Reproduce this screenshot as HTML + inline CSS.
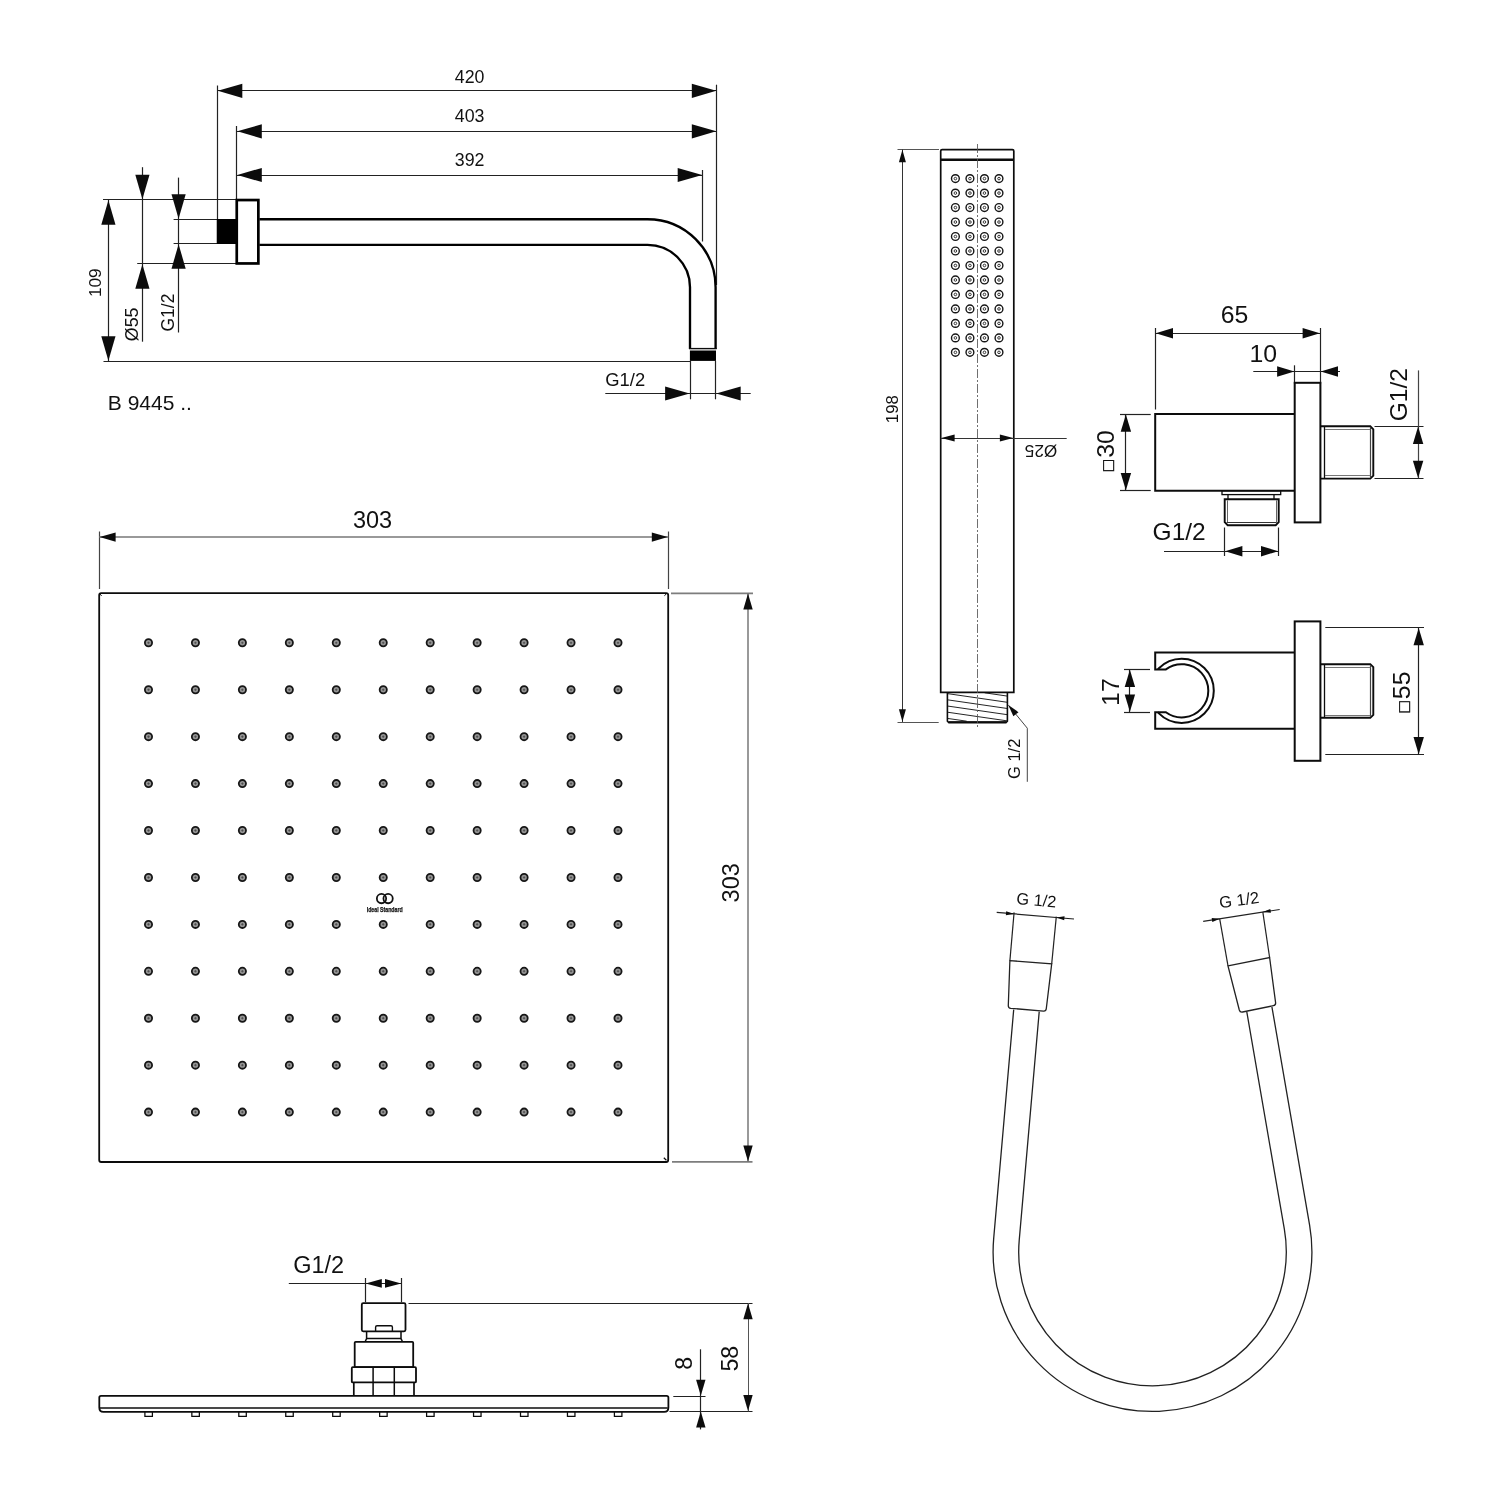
<!DOCTYPE html>
<html lang="en">
<head>
<meta charset="utf-8">
<title>B 9445 technical drawing</title>
<style>
html,body{margin:0;padding:0;background:#fff;}
body{width:1500px;height:1500px;overflow:hidden;}
svg{display:block;filter:grayscale(1);}
svg text{font-family:"Liberation Sans","DejaVu Sans",sans-serif;}
</style>
</head>
<body>
<svg width="1500" height="1500" viewBox="0 0 1500 1500">
<rect x="0" y="0" width="1500" height="1500" fill="#ffffff"/>
<g id="arm">
<line x1="217.3" y1="90.5" x2="716.8" y2="90.5" stroke="#222" stroke-width="1.2" />
<polygon points="217.8,90.8 242.3,83.7 242.3,97.9" fill="#0c0c0c"/>
<polygon points="716.3,90.8 691.8,97.9 691.8,83.7" fill="#0c0c0c"/>
<line x1="217.5" y1="85.5" x2="217.5" y2="243.8" stroke="#222" stroke-width="1.2" />
<line x1="716.5" y1="84.7" x2="716.5" y2="285" stroke="#222" stroke-width="1.2" />
<line x1="236.8" y1="131.5" x2="716.8" y2="131.5" stroke="#222" stroke-width="1.2" />
<polygon points="237.3,131.3 261.8,124.2 261.8,138.4" fill="#0c0c0c"/>
<polygon points="716.3,131.3 691.8,138.4 691.8,124.2" fill="#0c0c0c"/>
<line x1="236.5" y1="126" x2="236.5" y2="200" stroke="#222" stroke-width="1.2" />
<line x1="236.8" y1="175.5" x2="702.7" y2="175.5" stroke="#222" stroke-width="1.2" />
<polygon points="237.3,175 261.8,167.9 261.8,182.1" fill="#0c0c0c"/>
<polygon points="702.2,175 677.7,182.1 677.7,167.9" fill="#0c0c0c"/>
<line x1="702.5" y1="170" x2="702.5" y2="241.5" stroke="#222" stroke-width="1.2" />
<text x="469.6" y="83.3" font-size="17.8" text-anchor="middle" fill="#111" >420</text>
<text x="469.6" y="122" font-size="17.8" text-anchor="middle" fill="#111" >403</text>
<text x="469.6" y="166" font-size="17.8" text-anchor="middle" fill="#111" >392</text>
<line x1="103" y1="199.5" x2="236" y2="199.5" stroke="#222" stroke-width="1.2" />
<line x1="103.5" y1="361.5" x2="690" y2="361.5" stroke="#222" stroke-width="1.2" />
<line x1="108.5" y1="199.8" x2="108.5" y2="361.3" stroke="#222" stroke-width="1.2" />
<polygon points="108.4,200.3 115.5,224.8 101.3,224.8" fill="#0c0c0c"/>
<polygon points="108.4,360.8 101.3,336.3 115.5,336.3" fill="#0c0c0c"/>
<text x="0" y="0" transform="translate(101.2 282.7) rotate(-90)" font-size="17.3" text-anchor="middle" fill="#111" >109</text>
<line x1="142.5" y1="167.2" x2="142.5" y2="341.7" stroke="#222" stroke-width="1.2" />
<polygon points="142.4,199.3 135.3,174.8 149.5,174.8" fill="#0c0c0c"/>
<polygon points="142.4,264.3 149.5,288.8 135.3,288.8" fill="#0c0c0c"/>
<line x1="137.2" y1="263.5" x2="236" y2="263.5" stroke="#222" stroke-width="1.2" />
<text x="0" y="0" transform="translate(137.9 341.2) rotate(-90)" font-size="17.8" text-anchor="start" fill="#111" >Ø55</text>
<line x1="178.5" y1="177.6" x2="178.5" y2="332.5" stroke="#222" stroke-width="1.2" />
<polygon points="178.6,218.8 171.5,194.3 185.7,194.3" fill="#0c0c0c"/>
<polygon points="178.6,244.2 185.7,268.7 171.5,268.7" fill="#0c0c0c"/>
<line x1="173.6" y1="219.5" x2="217.3" y2="219.5" stroke="#222" stroke-width="1.2" />
<line x1="173.6" y1="243.5" x2="217.3" y2="243.5" stroke="#222" stroke-width="1.2" />
<text x="0" y="0" transform="translate(173.7 331.5) rotate(-90)" font-size="17.5" text-anchor="start" fill="#111" >G1/2</text>
<rect x="216.8" y="219" width="20" height="25" fill="#000"/>
<rect x="236.75" y="200.05" width="21.6" height="63.4" rx="0" stroke="#000" stroke-width="2.7" fill="none"/>
<path d="M259.4,219.2 H647.5 A68.1,68.1 0 0 1 715.6,287.3 V349" stroke="#000" stroke-width="2.35" fill="none" />
<path d="M259.4,244.8 H647.5 A42.5,42.5 0 0 1 690,287.3 V349" stroke="#000" stroke-width="2.35" fill="none" />
<line x1="689" y1="348.6" x2="716.6" y2="348.6" stroke="#0c0c0c" stroke-width="1.4" />
<rect x="689.9" y="350.5" width="26.1" height="10.4" fill="#000"/>
<line x1="690.5" y1="361" x2="690.5" y2="399.3" stroke="#222" stroke-width="1.2" />
<line x1="715.5" y1="361" x2="715.5" y2="399.3" stroke="#222" stroke-width="1.2" />
<line x1="605.3" y1="393.5" x2="750.7" y2="393.5" stroke="#222" stroke-width="1.2" />
<polygon points="689.6,393.5 665.1,400.6 665.1,386.4" fill="#0c0c0c"/>
<polygon points="716.2,393.5 740.7,386.4 740.7,400.6" fill="#0c0c0c"/>
<text x="605.3" y="385.9" font-size="18.4" text-anchor="start" fill="#111" >G1/2</text>
<text x="107.8" y="410" font-size="21" text-anchor="start" fill="#111" >B 9445 ..</text>
</g>
<g id="hand">
<path d="M940.7,692.4 V151 Q940.7,149.6 942.1,149.6 H1012.4 Q1013.8,149.6 1013.8,151 V692.4 Z" stroke="#0c0c0c" stroke-width="1.7" fill="none" />
<line x1="940.7" y1="159.8" x2="1013.8" y2="159.8" stroke="#0c0c0c" stroke-width="2.4" />
<path d="M947.4,692.4 V721.2 L948.9,722.7 H1005.9 L1007.4,721.2 V692.4" stroke="#0c0c0c" stroke-width="1.6" fill="none" />
<line x1="948.4" y1="721.5" x2="1006.4" y2="721.5" stroke="#0c0c0c" stroke-width="0.9" />
<line x1="984.64" y1="692.8" x2="1007.4" y2="696.1" stroke="#0c0c0c" stroke-width="0.9" />
<line x1="947.4" y1="693.6" x2="1007.4" y2="702.3" stroke="#0c0c0c" stroke-width="0.9" />
<line x1="947.4" y1="699.8" x2="1007.4" y2="708.5" stroke="#0c0c0c" stroke-width="0.9" />
<line x1="947.4" y1="706" x2="1007.4" y2="714.7" stroke="#0c0c0c" stroke-width="0.9" />
<line x1="947.4" y1="712.2" x2="1007.4" y2="720.9" stroke="#0c0c0c" stroke-width="0.9" />
<line x1="947.4" y1="718.4" x2="966.71" y2="721.2" stroke="#0c0c0c" stroke-width="0.9" />
<line x1="977.5" y1="144" x2="977.5" y2="727.6" stroke="#555" stroke-width="0.85" stroke-dasharray="9 2 2 2"/>
<circle cx="955.4" cy="178.6" r="3.9" stroke="#151515" stroke-width="1.4" fill="none"/>
<circle cx="955.4" cy="178.6" r="1.3" stroke="#222" stroke-width="0.9" fill="none"/>
<circle cx="955.4" cy="193.08" r="3.9" stroke="#151515" stroke-width="1.4" fill="none"/>
<circle cx="955.4" cy="193.08" r="1.3" stroke="#222" stroke-width="0.9" fill="none"/>
<circle cx="955.4" cy="207.56" r="3.9" stroke="#151515" stroke-width="1.4" fill="none"/>
<circle cx="955.4" cy="207.56" r="1.3" stroke="#222" stroke-width="0.9" fill="none"/>
<circle cx="955.4" cy="222.04" r="3.9" stroke="#151515" stroke-width="1.4" fill="none"/>
<circle cx="955.4" cy="222.04" r="1.3" stroke="#222" stroke-width="0.9" fill="none"/>
<circle cx="955.4" cy="236.52" r="3.9" stroke="#151515" stroke-width="1.4" fill="none"/>
<circle cx="955.4" cy="236.52" r="1.3" stroke="#222" stroke-width="0.9" fill="none"/>
<circle cx="955.4" cy="251" r="3.9" stroke="#151515" stroke-width="1.4" fill="none"/>
<circle cx="955.4" cy="251" r="1.3" stroke="#222" stroke-width="0.9" fill="none"/>
<circle cx="955.4" cy="265.48" r="3.9" stroke="#151515" stroke-width="1.4" fill="none"/>
<circle cx="955.4" cy="265.48" r="1.3" stroke="#222" stroke-width="0.9" fill="none"/>
<circle cx="955.4" cy="279.96" r="3.9" stroke="#151515" stroke-width="1.4" fill="none"/>
<circle cx="955.4" cy="279.96" r="1.3" stroke="#222" stroke-width="0.9" fill="none"/>
<circle cx="955.4" cy="294.44" r="3.9" stroke="#151515" stroke-width="1.4" fill="none"/>
<circle cx="955.4" cy="294.44" r="1.3" stroke="#222" stroke-width="0.9" fill="none"/>
<circle cx="955.4" cy="308.92" r="3.9" stroke="#151515" stroke-width="1.4" fill="none"/>
<circle cx="955.4" cy="308.92" r="1.3" stroke="#222" stroke-width="0.9" fill="none"/>
<circle cx="955.4" cy="323.4" r="3.9" stroke="#151515" stroke-width="1.4" fill="none"/>
<circle cx="955.4" cy="323.4" r="1.3" stroke="#222" stroke-width="0.9" fill="none"/>
<circle cx="955.4" cy="337.88" r="3.9" stroke="#151515" stroke-width="1.4" fill="none"/>
<circle cx="955.4" cy="337.88" r="1.3" stroke="#222" stroke-width="0.9" fill="none"/>
<circle cx="955.4" cy="352.36" r="3.9" stroke="#151515" stroke-width="1.4" fill="none"/>
<circle cx="955.4" cy="352.36" r="1.3" stroke="#222" stroke-width="0.9" fill="none"/>
<circle cx="969.93" cy="178.6" r="3.9" stroke="#151515" stroke-width="1.4" fill="none"/>
<circle cx="969.93" cy="178.6" r="1.3" stroke="#222" stroke-width="0.9" fill="none"/>
<circle cx="969.93" cy="193.08" r="3.9" stroke="#151515" stroke-width="1.4" fill="none"/>
<circle cx="969.93" cy="193.08" r="1.3" stroke="#222" stroke-width="0.9" fill="none"/>
<circle cx="969.93" cy="207.56" r="3.9" stroke="#151515" stroke-width="1.4" fill="none"/>
<circle cx="969.93" cy="207.56" r="1.3" stroke="#222" stroke-width="0.9" fill="none"/>
<circle cx="969.93" cy="222.04" r="3.9" stroke="#151515" stroke-width="1.4" fill="none"/>
<circle cx="969.93" cy="222.04" r="1.3" stroke="#222" stroke-width="0.9" fill="none"/>
<circle cx="969.93" cy="236.52" r="3.9" stroke="#151515" stroke-width="1.4" fill="none"/>
<circle cx="969.93" cy="236.52" r="1.3" stroke="#222" stroke-width="0.9" fill="none"/>
<circle cx="969.93" cy="251" r="3.9" stroke="#151515" stroke-width="1.4" fill="none"/>
<circle cx="969.93" cy="251" r="1.3" stroke="#222" stroke-width="0.9" fill="none"/>
<circle cx="969.93" cy="265.48" r="3.9" stroke="#151515" stroke-width="1.4" fill="none"/>
<circle cx="969.93" cy="265.48" r="1.3" stroke="#222" stroke-width="0.9" fill="none"/>
<circle cx="969.93" cy="279.96" r="3.9" stroke="#151515" stroke-width="1.4" fill="none"/>
<circle cx="969.93" cy="279.96" r="1.3" stroke="#222" stroke-width="0.9" fill="none"/>
<circle cx="969.93" cy="294.44" r="3.9" stroke="#151515" stroke-width="1.4" fill="none"/>
<circle cx="969.93" cy="294.44" r="1.3" stroke="#222" stroke-width="0.9" fill="none"/>
<circle cx="969.93" cy="308.92" r="3.9" stroke="#151515" stroke-width="1.4" fill="none"/>
<circle cx="969.93" cy="308.92" r="1.3" stroke="#222" stroke-width="0.9" fill="none"/>
<circle cx="969.93" cy="323.4" r="3.9" stroke="#151515" stroke-width="1.4" fill="none"/>
<circle cx="969.93" cy="323.4" r="1.3" stroke="#222" stroke-width="0.9" fill="none"/>
<circle cx="969.93" cy="337.88" r="3.9" stroke="#151515" stroke-width="1.4" fill="none"/>
<circle cx="969.93" cy="337.88" r="1.3" stroke="#222" stroke-width="0.9" fill="none"/>
<circle cx="969.93" cy="352.36" r="3.9" stroke="#151515" stroke-width="1.4" fill="none"/>
<circle cx="969.93" cy="352.36" r="1.3" stroke="#222" stroke-width="0.9" fill="none"/>
<circle cx="984.46" cy="178.6" r="3.9" stroke="#151515" stroke-width="1.4" fill="none"/>
<circle cx="984.46" cy="178.6" r="1.3" stroke="#222" stroke-width="0.9" fill="none"/>
<circle cx="984.46" cy="193.08" r="3.9" stroke="#151515" stroke-width="1.4" fill="none"/>
<circle cx="984.46" cy="193.08" r="1.3" stroke="#222" stroke-width="0.9" fill="none"/>
<circle cx="984.46" cy="207.56" r="3.9" stroke="#151515" stroke-width="1.4" fill="none"/>
<circle cx="984.46" cy="207.56" r="1.3" stroke="#222" stroke-width="0.9" fill="none"/>
<circle cx="984.46" cy="222.04" r="3.9" stroke="#151515" stroke-width="1.4" fill="none"/>
<circle cx="984.46" cy="222.04" r="1.3" stroke="#222" stroke-width="0.9" fill="none"/>
<circle cx="984.46" cy="236.52" r="3.9" stroke="#151515" stroke-width="1.4" fill="none"/>
<circle cx="984.46" cy="236.52" r="1.3" stroke="#222" stroke-width="0.9" fill="none"/>
<circle cx="984.46" cy="251" r="3.9" stroke="#151515" stroke-width="1.4" fill="none"/>
<circle cx="984.46" cy="251" r="1.3" stroke="#222" stroke-width="0.9" fill="none"/>
<circle cx="984.46" cy="265.48" r="3.9" stroke="#151515" stroke-width="1.4" fill="none"/>
<circle cx="984.46" cy="265.48" r="1.3" stroke="#222" stroke-width="0.9" fill="none"/>
<circle cx="984.46" cy="279.96" r="3.9" stroke="#151515" stroke-width="1.4" fill="none"/>
<circle cx="984.46" cy="279.96" r="1.3" stroke="#222" stroke-width="0.9" fill="none"/>
<circle cx="984.46" cy="294.44" r="3.9" stroke="#151515" stroke-width="1.4" fill="none"/>
<circle cx="984.46" cy="294.44" r="1.3" stroke="#222" stroke-width="0.9" fill="none"/>
<circle cx="984.46" cy="308.92" r="3.9" stroke="#151515" stroke-width="1.4" fill="none"/>
<circle cx="984.46" cy="308.92" r="1.3" stroke="#222" stroke-width="0.9" fill="none"/>
<circle cx="984.46" cy="323.4" r="3.9" stroke="#151515" stroke-width="1.4" fill="none"/>
<circle cx="984.46" cy="323.4" r="1.3" stroke="#222" stroke-width="0.9" fill="none"/>
<circle cx="984.46" cy="337.88" r="3.9" stroke="#151515" stroke-width="1.4" fill="none"/>
<circle cx="984.46" cy="337.88" r="1.3" stroke="#222" stroke-width="0.9" fill="none"/>
<circle cx="984.46" cy="352.36" r="3.9" stroke="#151515" stroke-width="1.4" fill="none"/>
<circle cx="984.46" cy="352.36" r="1.3" stroke="#222" stroke-width="0.9" fill="none"/>
<circle cx="998.99" cy="178.6" r="3.9" stroke="#151515" stroke-width="1.4" fill="none"/>
<circle cx="998.99" cy="178.6" r="1.3" stroke="#222" stroke-width="0.9" fill="none"/>
<circle cx="998.99" cy="193.08" r="3.9" stroke="#151515" stroke-width="1.4" fill="none"/>
<circle cx="998.99" cy="193.08" r="1.3" stroke="#222" stroke-width="0.9" fill="none"/>
<circle cx="998.99" cy="207.56" r="3.9" stroke="#151515" stroke-width="1.4" fill="none"/>
<circle cx="998.99" cy="207.56" r="1.3" stroke="#222" stroke-width="0.9" fill="none"/>
<circle cx="998.99" cy="222.04" r="3.9" stroke="#151515" stroke-width="1.4" fill="none"/>
<circle cx="998.99" cy="222.04" r="1.3" stroke="#222" stroke-width="0.9" fill="none"/>
<circle cx="998.99" cy="236.52" r="3.9" stroke="#151515" stroke-width="1.4" fill="none"/>
<circle cx="998.99" cy="236.52" r="1.3" stroke="#222" stroke-width="0.9" fill="none"/>
<circle cx="998.99" cy="251" r="3.9" stroke="#151515" stroke-width="1.4" fill="none"/>
<circle cx="998.99" cy="251" r="1.3" stroke="#222" stroke-width="0.9" fill="none"/>
<circle cx="998.99" cy="265.48" r="3.9" stroke="#151515" stroke-width="1.4" fill="none"/>
<circle cx="998.99" cy="265.48" r="1.3" stroke="#222" stroke-width="0.9" fill="none"/>
<circle cx="998.99" cy="279.96" r="3.9" stroke="#151515" stroke-width="1.4" fill="none"/>
<circle cx="998.99" cy="279.96" r="1.3" stroke="#222" stroke-width="0.9" fill="none"/>
<circle cx="998.99" cy="294.44" r="3.9" stroke="#151515" stroke-width="1.4" fill="none"/>
<circle cx="998.99" cy="294.44" r="1.3" stroke="#222" stroke-width="0.9" fill="none"/>
<circle cx="998.99" cy="308.92" r="3.9" stroke="#151515" stroke-width="1.4" fill="none"/>
<circle cx="998.99" cy="308.92" r="1.3" stroke="#222" stroke-width="0.9" fill="none"/>
<circle cx="998.99" cy="323.4" r="3.9" stroke="#151515" stroke-width="1.4" fill="none"/>
<circle cx="998.99" cy="323.4" r="1.3" stroke="#222" stroke-width="0.9" fill="none"/>
<circle cx="998.99" cy="337.88" r="3.9" stroke="#151515" stroke-width="1.4" fill="none"/>
<circle cx="998.99" cy="337.88" r="1.3" stroke="#222" stroke-width="0.9" fill="none"/>
<circle cx="998.99" cy="352.36" r="3.9" stroke="#151515" stroke-width="1.4" fill="none"/>
<circle cx="998.99" cy="352.36" r="1.3" stroke="#222" stroke-width="0.9" fill="none"/>
<line x1="897.5" y1="149.5" x2="939" y2="149.5" stroke="#555" stroke-width="1" />
<line x1="897.5" y1="722.5" x2="938.7" y2="722.5" stroke="#555" stroke-width="1" />
<line x1="902.5" y1="149.5" x2="902.5" y2="722" stroke="#333" stroke-width="1" />
<polygon points="902.4,149.8 905.9,162.3 898.9,162.3" fill="#0c0c0c"/>
<polygon points="902.4,721.7 898.9,709.2 905.9,709.2" fill="#0c0c0c"/>
<text x="0" y="0" transform="translate(898 409.2) rotate(-90)" font-size="16.8" text-anchor="middle" fill="#111" >198</text>
<line x1="940.7" y1="438.5" x2="1066.7" y2="438.5" stroke="#333" stroke-width="1" />
<polygon points="941.3,438.1 954.6,434.6 954.6,441.6" fill="#0c0c0c"/>
<polygon points="1013.2,438.1 999.9,441.6 999.9,434.6" fill="#0c0c0c"/>
<text x="0" y="0" transform="translate(1057.3 444.9) rotate(180)" font-size="17.2" text-anchor="start" fill="#111" >Ø25</text>
<path d="M1008.5,705.3 L1027.3,728.2 V781.8" stroke="#444" stroke-width="1" fill="none" />
<polygon points="1008.3,705 1018.48,712.16 1013.39,716.36" fill="#0c0c0c"/>
<text x="0" y="0" transform="translate(1020.4 779) rotate(-90)" font-size="16.5" text-anchor="start" fill="#111" >G 1/2</text>
</g>
<g id="elbow">
<line x1="1155.5" y1="328" x2="1155.5" y2="409.5" stroke="#222" stroke-width="1.2" />
<line x1="1320.5" y1="328" x2="1320.5" y2="384" stroke="#222" stroke-width="1.2" />
<line x1="1155.2" y1="333.5" x2="1320.4" y2="333.5" stroke="#222" stroke-width="1.2" />
<polygon points="1155.7,333.3 1173,328.1 1173,338.5" fill="#0c0c0c"/>
<polygon points="1319.9,333.3 1302.6,338.5 1302.6,328.1" fill="#0c0c0c"/>
<text x="1234.5" y="323" font-size="24.8" text-anchor="middle" fill="#111" >65</text>
<line x1="1253.3" y1="371.5" x2="1340" y2="371.5" stroke="#222" stroke-width="1.2" />
<line x1="1294.5" y1="365.3" x2="1294.5" y2="384" stroke="#222" stroke-width="1.2" />
<polygon points="1294.4,371.5 1277.1,376.7 1277.1,366.3" fill="#0c0c0c"/>
<polygon points="1320.7,371.5 1338,366.3 1338,376.7" fill="#0c0c0c"/>
<text x="1263.2" y="362" font-size="24.8" text-anchor="middle" fill="#111" >10</text>
<rect x="1294.7" y="382.8" width="25.7" height="139.6" rx="0" stroke="#0c0c0c" stroke-width="2" fill="none"/>
<path d="M1294.7,414.1 H1155.2 V490.7 H1294.7" stroke="#0c0c0c" stroke-width="2" fill="none" />
<line x1="1120" y1="414.5" x2="1150.7" y2="414.5" stroke="#222" stroke-width="1.2" />
<line x1="1120" y1="490.5" x2="1150.7" y2="490.5" stroke="#222" stroke-width="1.2" />
<line x1="1125.5" y1="414.1" x2="1125.5" y2="490.7" stroke="#222" stroke-width="1.2" />
<polygon points="1125.9,414.5 1131.1,431.8 1120.7,431.8" fill="#0c0c0c"/>
<polygon points="1125.9,490.3 1120.7,473 1131.1,473" fill="#0c0c0c"/>
<text x="0" y="0" transform="translate(1114.2 470.9) rotate(-90)" font-size="24.8" text-anchor="start" fill="#111" id="sq30"><tspan font-size="18" dy="-0.3" stroke="#111" stroke-width="0.45">□</tspan><tspan dy="0.3" dx="2.3">30</tspan></text>
<path d="M1320.4,426.3 H1370.3 L1373.3,429.3 V475.6 L1370.3,478.6 H1320.4" stroke="#0c0c0c" stroke-width="1.9" fill="none" />
<line x1="1324.5" y1="426.3" x2="1324.5" y2="478.6" stroke="#0c0c0c" stroke-width="1.3" />
<line x1="1370.5" y1="427.3" x2="1370.5" y2="477.6" stroke="#444" stroke-width="1.2" />
<line x1="1325" y1="429.5" x2="1370.3" y2="429.5" stroke="#777" stroke-width="1" />
<line x1="1325" y1="475.5" x2="1370.3" y2="475.5" stroke="#777" stroke-width="1" />
<line x1="1374.5" y1="426.5" x2="1423.5" y2="426.5" stroke="#222" stroke-width="1.2" />
<line x1="1374.5" y1="478.5" x2="1423.5" y2="478.5" stroke="#222" stroke-width="1.2" />
<line x1="1418.5" y1="370.4" x2="1418.5" y2="478.2" stroke="#444" stroke-width="1.2" />
<polygon points="1418.1,426.6 1423.3,443.9 1412.9,443.9" fill="#0c0c0c"/>
<polygon points="1418.1,478 1412.9,460.7 1423.3,460.7" fill="#0c0c0c"/>
<text x="0" y="0" transform="translate(1406.8 421.3) rotate(-90)" font-size="24.5" text-anchor="start" fill="#111" >G1/2</text>
<rect x="1222" y="490.7" width="58.7" height="3.9" rx="0" stroke="#0c0c0c" stroke-width="1.3" fill="none"/>
<path d="M1228,494.6 V499.3 M1274,494.6 V499.3" stroke="#0c0c0c" stroke-width="1.3" fill="none" />
<path d="M1224.7,499.3 H1278.7 V522.2 L1275.7,525.2 H1227.7 L1224.7,522.2 Z" stroke="#0c0c0c" stroke-width="1.9" fill="none" />
<line x1="1227.5" y1="500.3" x2="1227.5" y2="522.2" stroke="#666" stroke-width="1" />
<line x1="1276.5" y1="500.3" x2="1276.5" y2="522.2" stroke="#666" stroke-width="1" />
<line x1="1226.7" y1="522.5" x2="1276.7" y2="522.5" stroke="#333" stroke-width="1.2" />
<line x1="1224.5" y1="527.5" x2="1224.5" y2="556" stroke="#222" stroke-width="1.2" />
<line x1="1278.5" y1="527.5" x2="1278.5" y2="556" stroke="#222" stroke-width="1.2" />
<line x1="1164" y1="551.5" x2="1278.7" y2="551.5" stroke="#222" stroke-width="1.2" />
<polygon points="1225.1,551.2 1242.4,546 1242.4,556.4" fill="#0c0c0c"/>
<polygon points="1278.3,551.2 1261,556.4 1261,546" fill="#0c0c0c"/>
<text x="1152.6" y="539.6" font-size="24.5" text-anchor="start" fill="#111" >G1/2</text>
</g>
<g id="holder">
<rect x="1294.7" y="621.4" width="25.7" height="139.4" rx="0" stroke="#0c0c0c" stroke-width="2" fill="none"/>
<path d="M1294.7,652.6 H1155.2 V669.4 H1165.9 A26.6,26.6 0 1 1 1165.9,712.2 H1155.2 V728.8 H1294.7" stroke="#0c0c0c" stroke-width="2" fill="none" />
<path d="M1157.9,669.4 L1158.9,668.1999999999999 A32.1,32.1 0 1 1 1158.9,713.4000000000001 L1157.9,712.2" stroke="#0c0c0c" stroke-width="2" fill="none" />
<line x1="1124" y1="669.5" x2="1150" y2="669.5" stroke="#222" stroke-width="1.2" />
<line x1="1124" y1="712.5" x2="1150" y2="712.5" stroke="#222" stroke-width="1.2" />
<line x1="1129.5" y1="669.4" x2="1129.5" y2="712.2" stroke="#222" stroke-width="1.2" />
<polygon points="1129.9,669.8 1135.1,687.1 1124.7,687.1" fill="#0c0c0c"/>
<polygon points="1129.9,711.8 1124.7,694.5 1135.1,694.5" fill="#0c0c0c"/>
<text x="0" y="0" transform="translate(1118.6 692.1) rotate(-90)" font-size="24.8" text-anchor="middle" fill="#111" >17</text>
<path d="M1320.4,664.2 H1370.3 L1373.3,667.2 V714.8 L1370.3,717.8 H1320.4" stroke="#0c0c0c" stroke-width="1.9" fill="none" />
<line x1="1324.5" y1="664.2" x2="1324.5" y2="717.8" stroke="#0c0c0c" stroke-width="1.3" />
<line x1="1370.5" y1="665.2" x2="1370.5" y2="716.8" stroke="#444" stroke-width="1.2" />
<line x1="1325" y1="667.5" x2="1370.3" y2="667.5" stroke="#777" stroke-width="1" />
<line x1="1325" y1="715.5" x2="1370.3" y2="715.5" stroke="#777" stroke-width="1" />
<line x1="1325.3" y1="627.5" x2="1424" y2="627.5" stroke="#222" stroke-width="1.2" />
<line x1="1325.3" y1="754.5" x2="1424" y2="754.5" stroke="#222" stroke-width="1.2" />
<line x1="1418.5" y1="627.5" x2="1418.5" y2="754.7" stroke="#222" stroke-width="1.2" />
<polygon points="1418.7,627.9 1423.9,645.2 1413.5,645.2" fill="#0c0c0c"/>
<polygon points="1418.7,754.3 1413.5,737 1423.9,737" fill="#0c0c0c"/>
<text x="0" y="0" transform="translate(1410.1 712.3) rotate(-90)" font-size="24.8" text-anchor="start" fill="#111" id="sq55"><tspan font-size="18" dy="-0.3" stroke="#111" stroke-width="0.45">□</tspan><tspan dy="0.3" dx="2.3">55</tspan></text>
</g>
<g id="hose">
<path d="M1013.7,1009.6 L993.71,1238.11 A159.4,159.4 0 1 0 1309.57,1224.87 L1271.91,1006.8" stroke="#222" stroke-width="1.3" fill="none" />
<path d="M1039.22,1011.6 L1019.21,1240.34 A133.8,133.8 0 1 0 1284.35,1229.23 L1246.79,1011.8" stroke="#222" stroke-width="1.3" fill="none" />
<path d="M1009.9,960.6 L1051.7,963.9 L1046.3,1008.5 Q1046,1011.3 1043.5,1011.1 L1010.8,1008.3 Q1008.2,1008 1008.3,1005.5 Z" stroke="#222" stroke-width="1.3" fill="none" />
<line x1="1014.1" y1="912.4" x2="1009.9" y2="960.6" stroke="#222" stroke-width="1.2" />
<line x1="1056.3" y1="916.6" x2="1051.7" y2="963.9" stroke="#222" stroke-width="1.2" />
<line x1="996.7" y1="912.4" x2="1074" y2="919" stroke="#222" stroke-width="1.2" />
<polygon points="1014,913.9 1005.86,915.21 1006.2,911.23" fill="#0c0c0c"/>
<polygon points="1056.4,917.5 1064.54,916.19 1064.2,920.17" fill="#0c0c0c"/>
<text x="0" y="0" transform="translate(1016 904.1) rotate(4.88)" font-size="16.4" text-anchor="start" fill="#111" >G 1/2</text>
<path d="M1228,965.9 L1269.6,957.5 L1275.6,1002.6 Q1275.9,1005.2 1273.4,1005.7 L1242.6,1012 Q1240,1012.5 1239.3,1010 Z" stroke="#222" stroke-width="1.3" fill="none" />
<line x1="1219.7" y1="918.8" x2="1228" y2="965.9" stroke="#222" stroke-width="1.2" />
<line x1="1262.8" y1="911.9" x2="1269.6" y2="957.5" stroke="#222" stroke-width="1.2" />
<line x1="1203.2" y1="921.4" x2="1279.7" y2="909.5" stroke="#222" stroke-width="1.2" />
<polygon points="1219.9,918.8 1212.3,922.01 1211.69,918.05" fill="#0c0c0c"/>
<polygon points="1262.7,912.1 1270.3,908.89 1270.91,912.85" fill="#0c0c0c"/>
<text x="0" y="0" transform="translate(1220.1 908.3) rotate(-7.8)" font-size="16.4" text-anchor="start" fill="#111" >G 1/2</text>
</g>
<g id="head">
<rect x="99.2" y="593.1" width="569" height="568.9" rx="2" stroke="#0c0c0c" stroke-width="1.8" fill="none"/>
<line x1="99.6" y1="593.7" x2="101.6" y2="595.9" stroke="#0c0c0c" stroke-width="1" />
<line x1="664.4" y1="595.7" x2="666.6" y2="593.7" stroke="#0c0c0c" stroke-width="1" />
<line x1="663.8" y1="1157.8" x2="666.4" y2="1160.2" stroke="#0c0c0c" stroke-width="1.2" />
<circle cx="148.5" cy="642.8" r="3.6" stroke="#161616" stroke-width="1.8" fill="#959595"/>
<circle cx="148.5" cy="642.8" r="0.8" stroke="#444" stroke-width="0.5" fill="#555"/>
<circle cx="148.5" cy="689.73" r="3.6" stroke="#161616" stroke-width="1.8" fill="#959595"/>
<circle cx="148.5" cy="689.73" r="0.8" stroke="#444" stroke-width="0.5" fill="#555"/>
<circle cx="148.5" cy="736.66" r="3.6" stroke="#161616" stroke-width="1.8" fill="#959595"/>
<circle cx="148.5" cy="736.66" r="0.8" stroke="#444" stroke-width="0.5" fill="#555"/>
<circle cx="148.5" cy="783.59" r="3.6" stroke="#161616" stroke-width="1.8" fill="#959595"/>
<circle cx="148.5" cy="783.59" r="0.8" stroke="#444" stroke-width="0.5" fill="#555"/>
<circle cx="148.5" cy="830.52" r="3.6" stroke="#161616" stroke-width="1.8" fill="#959595"/>
<circle cx="148.5" cy="830.52" r="0.8" stroke="#444" stroke-width="0.5" fill="#555"/>
<circle cx="148.5" cy="877.45" r="3.6" stroke="#161616" stroke-width="1.8" fill="#959595"/>
<circle cx="148.5" cy="877.45" r="0.8" stroke="#444" stroke-width="0.5" fill="#555"/>
<circle cx="148.5" cy="924.38" r="3.6" stroke="#161616" stroke-width="1.8" fill="#959595"/>
<circle cx="148.5" cy="924.38" r="0.8" stroke="#444" stroke-width="0.5" fill="#555"/>
<circle cx="148.5" cy="971.31" r="3.6" stroke="#161616" stroke-width="1.8" fill="#959595"/>
<circle cx="148.5" cy="971.31" r="0.8" stroke="#444" stroke-width="0.5" fill="#555"/>
<circle cx="148.5" cy="1018.24" r="3.6" stroke="#161616" stroke-width="1.8" fill="#959595"/>
<circle cx="148.5" cy="1018.24" r="0.8" stroke="#444" stroke-width="0.5" fill="#555"/>
<circle cx="148.5" cy="1065.17" r="3.6" stroke="#161616" stroke-width="1.8" fill="#959595"/>
<circle cx="148.5" cy="1065.17" r="0.8" stroke="#444" stroke-width="0.5" fill="#555"/>
<circle cx="148.5" cy="1112.1" r="3.6" stroke="#161616" stroke-width="1.8" fill="#959595"/>
<circle cx="148.5" cy="1112.1" r="0.8" stroke="#444" stroke-width="0.5" fill="#555"/>
<circle cx="195.45" cy="642.8" r="3.6" stroke="#161616" stroke-width="1.8" fill="#959595"/>
<circle cx="195.45" cy="642.8" r="0.8" stroke="#444" stroke-width="0.5" fill="#555"/>
<circle cx="195.45" cy="689.73" r="3.6" stroke="#161616" stroke-width="1.8" fill="#959595"/>
<circle cx="195.45" cy="689.73" r="0.8" stroke="#444" stroke-width="0.5" fill="#555"/>
<circle cx="195.45" cy="736.66" r="3.6" stroke="#161616" stroke-width="1.8" fill="#959595"/>
<circle cx="195.45" cy="736.66" r="0.8" stroke="#444" stroke-width="0.5" fill="#555"/>
<circle cx="195.45" cy="783.59" r="3.6" stroke="#161616" stroke-width="1.8" fill="#959595"/>
<circle cx="195.45" cy="783.59" r="0.8" stroke="#444" stroke-width="0.5" fill="#555"/>
<circle cx="195.45" cy="830.52" r="3.6" stroke="#161616" stroke-width="1.8" fill="#959595"/>
<circle cx="195.45" cy="830.52" r="0.8" stroke="#444" stroke-width="0.5" fill="#555"/>
<circle cx="195.45" cy="877.45" r="3.6" stroke="#161616" stroke-width="1.8" fill="#959595"/>
<circle cx="195.45" cy="877.45" r="0.8" stroke="#444" stroke-width="0.5" fill="#555"/>
<circle cx="195.45" cy="924.38" r="3.6" stroke="#161616" stroke-width="1.8" fill="#959595"/>
<circle cx="195.45" cy="924.38" r="0.8" stroke="#444" stroke-width="0.5" fill="#555"/>
<circle cx="195.45" cy="971.31" r="3.6" stroke="#161616" stroke-width="1.8" fill="#959595"/>
<circle cx="195.45" cy="971.31" r="0.8" stroke="#444" stroke-width="0.5" fill="#555"/>
<circle cx="195.45" cy="1018.24" r="3.6" stroke="#161616" stroke-width="1.8" fill="#959595"/>
<circle cx="195.45" cy="1018.24" r="0.8" stroke="#444" stroke-width="0.5" fill="#555"/>
<circle cx="195.45" cy="1065.17" r="3.6" stroke="#161616" stroke-width="1.8" fill="#959595"/>
<circle cx="195.45" cy="1065.17" r="0.8" stroke="#444" stroke-width="0.5" fill="#555"/>
<circle cx="195.45" cy="1112.1" r="3.6" stroke="#161616" stroke-width="1.8" fill="#959595"/>
<circle cx="195.45" cy="1112.1" r="0.8" stroke="#444" stroke-width="0.5" fill="#555"/>
<circle cx="242.4" cy="642.8" r="3.6" stroke="#161616" stroke-width="1.8" fill="#959595"/>
<circle cx="242.4" cy="642.8" r="0.8" stroke="#444" stroke-width="0.5" fill="#555"/>
<circle cx="242.4" cy="689.73" r="3.6" stroke="#161616" stroke-width="1.8" fill="#959595"/>
<circle cx="242.4" cy="689.73" r="0.8" stroke="#444" stroke-width="0.5" fill="#555"/>
<circle cx="242.4" cy="736.66" r="3.6" stroke="#161616" stroke-width="1.8" fill="#959595"/>
<circle cx="242.4" cy="736.66" r="0.8" stroke="#444" stroke-width="0.5" fill="#555"/>
<circle cx="242.4" cy="783.59" r="3.6" stroke="#161616" stroke-width="1.8" fill="#959595"/>
<circle cx="242.4" cy="783.59" r="0.8" stroke="#444" stroke-width="0.5" fill="#555"/>
<circle cx="242.4" cy="830.52" r="3.6" stroke="#161616" stroke-width="1.8" fill="#959595"/>
<circle cx="242.4" cy="830.52" r="0.8" stroke="#444" stroke-width="0.5" fill="#555"/>
<circle cx="242.4" cy="877.45" r="3.6" stroke="#161616" stroke-width="1.8" fill="#959595"/>
<circle cx="242.4" cy="877.45" r="0.8" stroke="#444" stroke-width="0.5" fill="#555"/>
<circle cx="242.4" cy="924.38" r="3.6" stroke="#161616" stroke-width="1.8" fill="#959595"/>
<circle cx="242.4" cy="924.38" r="0.8" stroke="#444" stroke-width="0.5" fill="#555"/>
<circle cx="242.4" cy="971.31" r="3.6" stroke="#161616" stroke-width="1.8" fill="#959595"/>
<circle cx="242.4" cy="971.31" r="0.8" stroke="#444" stroke-width="0.5" fill="#555"/>
<circle cx="242.4" cy="1018.24" r="3.6" stroke="#161616" stroke-width="1.8" fill="#959595"/>
<circle cx="242.4" cy="1018.24" r="0.8" stroke="#444" stroke-width="0.5" fill="#555"/>
<circle cx="242.4" cy="1065.17" r="3.6" stroke="#161616" stroke-width="1.8" fill="#959595"/>
<circle cx="242.4" cy="1065.17" r="0.8" stroke="#444" stroke-width="0.5" fill="#555"/>
<circle cx="242.4" cy="1112.1" r="3.6" stroke="#161616" stroke-width="1.8" fill="#959595"/>
<circle cx="242.4" cy="1112.1" r="0.8" stroke="#444" stroke-width="0.5" fill="#555"/>
<circle cx="289.35" cy="642.8" r="3.6" stroke="#161616" stroke-width="1.8" fill="#959595"/>
<circle cx="289.35" cy="642.8" r="0.8" stroke="#444" stroke-width="0.5" fill="#555"/>
<circle cx="289.35" cy="689.73" r="3.6" stroke="#161616" stroke-width="1.8" fill="#959595"/>
<circle cx="289.35" cy="689.73" r="0.8" stroke="#444" stroke-width="0.5" fill="#555"/>
<circle cx="289.35" cy="736.66" r="3.6" stroke="#161616" stroke-width="1.8" fill="#959595"/>
<circle cx="289.35" cy="736.66" r="0.8" stroke="#444" stroke-width="0.5" fill="#555"/>
<circle cx="289.35" cy="783.59" r="3.6" stroke="#161616" stroke-width="1.8" fill="#959595"/>
<circle cx="289.35" cy="783.59" r="0.8" stroke="#444" stroke-width="0.5" fill="#555"/>
<circle cx="289.35" cy="830.52" r="3.6" stroke="#161616" stroke-width="1.8" fill="#959595"/>
<circle cx="289.35" cy="830.52" r="0.8" stroke="#444" stroke-width="0.5" fill="#555"/>
<circle cx="289.35" cy="877.45" r="3.6" stroke="#161616" stroke-width="1.8" fill="#959595"/>
<circle cx="289.35" cy="877.45" r="0.8" stroke="#444" stroke-width="0.5" fill="#555"/>
<circle cx="289.35" cy="924.38" r="3.6" stroke="#161616" stroke-width="1.8" fill="#959595"/>
<circle cx="289.35" cy="924.38" r="0.8" stroke="#444" stroke-width="0.5" fill="#555"/>
<circle cx="289.35" cy="971.31" r="3.6" stroke="#161616" stroke-width="1.8" fill="#959595"/>
<circle cx="289.35" cy="971.31" r="0.8" stroke="#444" stroke-width="0.5" fill="#555"/>
<circle cx="289.35" cy="1018.24" r="3.6" stroke="#161616" stroke-width="1.8" fill="#959595"/>
<circle cx="289.35" cy="1018.24" r="0.8" stroke="#444" stroke-width="0.5" fill="#555"/>
<circle cx="289.35" cy="1065.17" r="3.6" stroke="#161616" stroke-width="1.8" fill="#959595"/>
<circle cx="289.35" cy="1065.17" r="0.8" stroke="#444" stroke-width="0.5" fill="#555"/>
<circle cx="289.35" cy="1112.1" r="3.6" stroke="#161616" stroke-width="1.8" fill="#959595"/>
<circle cx="289.35" cy="1112.1" r="0.8" stroke="#444" stroke-width="0.5" fill="#555"/>
<circle cx="336.3" cy="642.8" r="3.6" stroke="#161616" stroke-width="1.8" fill="#959595"/>
<circle cx="336.3" cy="642.8" r="0.8" stroke="#444" stroke-width="0.5" fill="#555"/>
<circle cx="336.3" cy="689.73" r="3.6" stroke="#161616" stroke-width="1.8" fill="#959595"/>
<circle cx="336.3" cy="689.73" r="0.8" stroke="#444" stroke-width="0.5" fill="#555"/>
<circle cx="336.3" cy="736.66" r="3.6" stroke="#161616" stroke-width="1.8" fill="#959595"/>
<circle cx="336.3" cy="736.66" r="0.8" stroke="#444" stroke-width="0.5" fill="#555"/>
<circle cx="336.3" cy="783.59" r="3.6" stroke="#161616" stroke-width="1.8" fill="#959595"/>
<circle cx="336.3" cy="783.59" r="0.8" stroke="#444" stroke-width="0.5" fill="#555"/>
<circle cx="336.3" cy="830.52" r="3.6" stroke="#161616" stroke-width="1.8" fill="#959595"/>
<circle cx="336.3" cy="830.52" r="0.8" stroke="#444" stroke-width="0.5" fill="#555"/>
<circle cx="336.3" cy="877.45" r="3.6" stroke="#161616" stroke-width="1.8" fill="#959595"/>
<circle cx="336.3" cy="877.45" r="0.8" stroke="#444" stroke-width="0.5" fill="#555"/>
<circle cx="336.3" cy="924.38" r="3.6" stroke="#161616" stroke-width="1.8" fill="#959595"/>
<circle cx="336.3" cy="924.38" r="0.8" stroke="#444" stroke-width="0.5" fill="#555"/>
<circle cx="336.3" cy="971.31" r="3.6" stroke="#161616" stroke-width="1.8" fill="#959595"/>
<circle cx="336.3" cy="971.31" r="0.8" stroke="#444" stroke-width="0.5" fill="#555"/>
<circle cx="336.3" cy="1018.24" r="3.6" stroke="#161616" stroke-width="1.8" fill="#959595"/>
<circle cx="336.3" cy="1018.24" r="0.8" stroke="#444" stroke-width="0.5" fill="#555"/>
<circle cx="336.3" cy="1065.17" r="3.6" stroke="#161616" stroke-width="1.8" fill="#959595"/>
<circle cx="336.3" cy="1065.17" r="0.8" stroke="#444" stroke-width="0.5" fill="#555"/>
<circle cx="336.3" cy="1112.1" r="3.6" stroke="#161616" stroke-width="1.8" fill="#959595"/>
<circle cx="336.3" cy="1112.1" r="0.8" stroke="#444" stroke-width="0.5" fill="#555"/>
<circle cx="383.25" cy="642.8" r="3.6" stroke="#161616" stroke-width="1.8" fill="#959595"/>
<circle cx="383.25" cy="642.8" r="0.8" stroke="#444" stroke-width="0.5" fill="#555"/>
<circle cx="383.25" cy="689.73" r="3.6" stroke="#161616" stroke-width="1.8" fill="#959595"/>
<circle cx="383.25" cy="689.73" r="0.8" stroke="#444" stroke-width="0.5" fill="#555"/>
<circle cx="383.25" cy="736.66" r="3.6" stroke="#161616" stroke-width="1.8" fill="#959595"/>
<circle cx="383.25" cy="736.66" r="0.8" stroke="#444" stroke-width="0.5" fill="#555"/>
<circle cx="383.25" cy="783.59" r="3.6" stroke="#161616" stroke-width="1.8" fill="#959595"/>
<circle cx="383.25" cy="783.59" r="0.8" stroke="#444" stroke-width="0.5" fill="#555"/>
<circle cx="383.25" cy="830.52" r="3.6" stroke="#161616" stroke-width="1.8" fill="#959595"/>
<circle cx="383.25" cy="830.52" r="0.8" stroke="#444" stroke-width="0.5" fill="#555"/>
<circle cx="383.25" cy="877.45" r="3.6" stroke="#161616" stroke-width="1.8" fill="#959595"/>
<circle cx="383.25" cy="877.45" r="0.8" stroke="#444" stroke-width="0.5" fill="#555"/>
<circle cx="383.25" cy="924.38" r="3.6" stroke="#161616" stroke-width="1.8" fill="#959595"/>
<circle cx="383.25" cy="924.38" r="0.8" stroke="#444" stroke-width="0.5" fill="#555"/>
<circle cx="383.25" cy="971.31" r="3.6" stroke="#161616" stroke-width="1.8" fill="#959595"/>
<circle cx="383.25" cy="971.31" r="0.8" stroke="#444" stroke-width="0.5" fill="#555"/>
<circle cx="383.25" cy="1018.24" r="3.6" stroke="#161616" stroke-width="1.8" fill="#959595"/>
<circle cx="383.25" cy="1018.24" r="0.8" stroke="#444" stroke-width="0.5" fill="#555"/>
<circle cx="383.25" cy="1065.17" r="3.6" stroke="#161616" stroke-width="1.8" fill="#959595"/>
<circle cx="383.25" cy="1065.17" r="0.8" stroke="#444" stroke-width="0.5" fill="#555"/>
<circle cx="383.25" cy="1112.1" r="3.6" stroke="#161616" stroke-width="1.8" fill="#959595"/>
<circle cx="383.25" cy="1112.1" r="0.8" stroke="#444" stroke-width="0.5" fill="#555"/>
<circle cx="430.2" cy="642.8" r="3.6" stroke="#161616" stroke-width="1.8" fill="#959595"/>
<circle cx="430.2" cy="642.8" r="0.8" stroke="#444" stroke-width="0.5" fill="#555"/>
<circle cx="430.2" cy="689.73" r="3.6" stroke="#161616" stroke-width="1.8" fill="#959595"/>
<circle cx="430.2" cy="689.73" r="0.8" stroke="#444" stroke-width="0.5" fill="#555"/>
<circle cx="430.2" cy="736.66" r="3.6" stroke="#161616" stroke-width="1.8" fill="#959595"/>
<circle cx="430.2" cy="736.66" r="0.8" stroke="#444" stroke-width="0.5" fill="#555"/>
<circle cx="430.2" cy="783.59" r="3.6" stroke="#161616" stroke-width="1.8" fill="#959595"/>
<circle cx="430.2" cy="783.59" r="0.8" stroke="#444" stroke-width="0.5" fill="#555"/>
<circle cx="430.2" cy="830.52" r="3.6" stroke="#161616" stroke-width="1.8" fill="#959595"/>
<circle cx="430.2" cy="830.52" r="0.8" stroke="#444" stroke-width="0.5" fill="#555"/>
<circle cx="430.2" cy="877.45" r="3.6" stroke="#161616" stroke-width="1.8" fill="#959595"/>
<circle cx="430.2" cy="877.45" r="0.8" stroke="#444" stroke-width="0.5" fill="#555"/>
<circle cx="430.2" cy="924.38" r="3.6" stroke="#161616" stroke-width="1.8" fill="#959595"/>
<circle cx="430.2" cy="924.38" r="0.8" stroke="#444" stroke-width="0.5" fill="#555"/>
<circle cx="430.2" cy="971.31" r="3.6" stroke="#161616" stroke-width="1.8" fill="#959595"/>
<circle cx="430.2" cy="971.31" r="0.8" stroke="#444" stroke-width="0.5" fill="#555"/>
<circle cx="430.2" cy="1018.24" r="3.6" stroke="#161616" stroke-width="1.8" fill="#959595"/>
<circle cx="430.2" cy="1018.24" r="0.8" stroke="#444" stroke-width="0.5" fill="#555"/>
<circle cx="430.2" cy="1065.17" r="3.6" stroke="#161616" stroke-width="1.8" fill="#959595"/>
<circle cx="430.2" cy="1065.17" r="0.8" stroke="#444" stroke-width="0.5" fill="#555"/>
<circle cx="430.2" cy="1112.1" r="3.6" stroke="#161616" stroke-width="1.8" fill="#959595"/>
<circle cx="430.2" cy="1112.1" r="0.8" stroke="#444" stroke-width="0.5" fill="#555"/>
<circle cx="477.15" cy="642.8" r="3.6" stroke="#161616" stroke-width="1.8" fill="#959595"/>
<circle cx="477.15" cy="642.8" r="0.8" stroke="#444" stroke-width="0.5" fill="#555"/>
<circle cx="477.15" cy="689.73" r="3.6" stroke="#161616" stroke-width="1.8" fill="#959595"/>
<circle cx="477.15" cy="689.73" r="0.8" stroke="#444" stroke-width="0.5" fill="#555"/>
<circle cx="477.15" cy="736.66" r="3.6" stroke="#161616" stroke-width="1.8" fill="#959595"/>
<circle cx="477.15" cy="736.66" r="0.8" stroke="#444" stroke-width="0.5" fill="#555"/>
<circle cx="477.15" cy="783.59" r="3.6" stroke="#161616" stroke-width="1.8" fill="#959595"/>
<circle cx="477.15" cy="783.59" r="0.8" stroke="#444" stroke-width="0.5" fill="#555"/>
<circle cx="477.15" cy="830.52" r="3.6" stroke="#161616" stroke-width="1.8" fill="#959595"/>
<circle cx="477.15" cy="830.52" r="0.8" stroke="#444" stroke-width="0.5" fill="#555"/>
<circle cx="477.15" cy="877.45" r="3.6" stroke="#161616" stroke-width="1.8" fill="#959595"/>
<circle cx="477.15" cy="877.45" r="0.8" stroke="#444" stroke-width="0.5" fill="#555"/>
<circle cx="477.15" cy="924.38" r="3.6" stroke="#161616" stroke-width="1.8" fill="#959595"/>
<circle cx="477.15" cy="924.38" r="0.8" stroke="#444" stroke-width="0.5" fill="#555"/>
<circle cx="477.15" cy="971.31" r="3.6" stroke="#161616" stroke-width="1.8" fill="#959595"/>
<circle cx="477.15" cy="971.31" r="0.8" stroke="#444" stroke-width="0.5" fill="#555"/>
<circle cx="477.15" cy="1018.24" r="3.6" stroke="#161616" stroke-width="1.8" fill="#959595"/>
<circle cx="477.15" cy="1018.24" r="0.8" stroke="#444" stroke-width="0.5" fill="#555"/>
<circle cx="477.15" cy="1065.17" r="3.6" stroke="#161616" stroke-width="1.8" fill="#959595"/>
<circle cx="477.15" cy="1065.17" r="0.8" stroke="#444" stroke-width="0.5" fill="#555"/>
<circle cx="477.15" cy="1112.1" r="3.6" stroke="#161616" stroke-width="1.8" fill="#959595"/>
<circle cx="477.15" cy="1112.1" r="0.8" stroke="#444" stroke-width="0.5" fill="#555"/>
<circle cx="524.1" cy="642.8" r="3.6" stroke="#161616" stroke-width="1.8" fill="#959595"/>
<circle cx="524.1" cy="642.8" r="0.8" stroke="#444" stroke-width="0.5" fill="#555"/>
<circle cx="524.1" cy="689.73" r="3.6" stroke="#161616" stroke-width="1.8" fill="#959595"/>
<circle cx="524.1" cy="689.73" r="0.8" stroke="#444" stroke-width="0.5" fill="#555"/>
<circle cx="524.1" cy="736.66" r="3.6" stroke="#161616" stroke-width="1.8" fill="#959595"/>
<circle cx="524.1" cy="736.66" r="0.8" stroke="#444" stroke-width="0.5" fill="#555"/>
<circle cx="524.1" cy="783.59" r="3.6" stroke="#161616" stroke-width="1.8" fill="#959595"/>
<circle cx="524.1" cy="783.59" r="0.8" stroke="#444" stroke-width="0.5" fill="#555"/>
<circle cx="524.1" cy="830.52" r="3.6" stroke="#161616" stroke-width="1.8" fill="#959595"/>
<circle cx="524.1" cy="830.52" r="0.8" stroke="#444" stroke-width="0.5" fill="#555"/>
<circle cx="524.1" cy="877.45" r="3.6" stroke="#161616" stroke-width="1.8" fill="#959595"/>
<circle cx="524.1" cy="877.45" r="0.8" stroke="#444" stroke-width="0.5" fill="#555"/>
<circle cx="524.1" cy="924.38" r="3.6" stroke="#161616" stroke-width="1.8" fill="#959595"/>
<circle cx="524.1" cy="924.38" r="0.8" stroke="#444" stroke-width="0.5" fill="#555"/>
<circle cx="524.1" cy="971.31" r="3.6" stroke="#161616" stroke-width="1.8" fill="#959595"/>
<circle cx="524.1" cy="971.31" r="0.8" stroke="#444" stroke-width="0.5" fill="#555"/>
<circle cx="524.1" cy="1018.24" r="3.6" stroke="#161616" stroke-width="1.8" fill="#959595"/>
<circle cx="524.1" cy="1018.24" r="0.8" stroke="#444" stroke-width="0.5" fill="#555"/>
<circle cx="524.1" cy="1065.17" r="3.6" stroke="#161616" stroke-width="1.8" fill="#959595"/>
<circle cx="524.1" cy="1065.17" r="0.8" stroke="#444" stroke-width="0.5" fill="#555"/>
<circle cx="524.1" cy="1112.1" r="3.6" stroke="#161616" stroke-width="1.8" fill="#959595"/>
<circle cx="524.1" cy="1112.1" r="0.8" stroke="#444" stroke-width="0.5" fill="#555"/>
<circle cx="571.05" cy="642.8" r="3.6" stroke="#161616" stroke-width="1.8" fill="#959595"/>
<circle cx="571.05" cy="642.8" r="0.8" stroke="#444" stroke-width="0.5" fill="#555"/>
<circle cx="571.05" cy="689.73" r="3.6" stroke="#161616" stroke-width="1.8" fill="#959595"/>
<circle cx="571.05" cy="689.73" r="0.8" stroke="#444" stroke-width="0.5" fill="#555"/>
<circle cx="571.05" cy="736.66" r="3.6" stroke="#161616" stroke-width="1.8" fill="#959595"/>
<circle cx="571.05" cy="736.66" r="0.8" stroke="#444" stroke-width="0.5" fill="#555"/>
<circle cx="571.05" cy="783.59" r="3.6" stroke="#161616" stroke-width="1.8" fill="#959595"/>
<circle cx="571.05" cy="783.59" r="0.8" stroke="#444" stroke-width="0.5" fill="#555"/>
<circle cx="571.05" cy="830.52" r="3.6" stroke="#161616" stroke-width="1.8" fill="#959595"/>
<circle cx="571.05" cy="830.52" r="0.8" stroke="#444" stroke-width="0.5" fill="#555"/>
<circle cx="571.05" cy="877.45" r="3.6" stroke="#161616" stroke-width="1.8" fill="#959595"/>
<circle cx="571.05" cy="877.45" r="0.8" stroke="#444" stroke-width="0.5" fill="#555"/>
<circle cx="571.05" cy="924.38" r="3.6" stroke="#161616" stroke-width="1.8" fill="#959595"/>
<circle cx="571.05" cy="924.38" r="0.8" stroke="#444" stroke-width="0.5" fill="#555"/>
<circle cx="571.05" cy="971.31" r="3.6" stroke="#161616" stroke-width="1.8" fill="#959595"/>
<circle cx="571.05" cy="971.31" r="0.8" stroke="#444" stroke-width="0.5" fill="#555"/>
<circle cx="571.05" cy="1018.24" r="3.6" stroke="#161616" stroke-width="1.8" fill="#959595"/>
<circle cx="571.05" cy="1018.24" r="0.8" stroke="#444" stroke-width="0.5" fill="#555"/>
<circle cx="571.05" cy="1065.17" r="3.6" stroke="#161616" stroke-width="1.8" fill="#959595"/>
<circle cx="571.05" cy="1065.17" r="0.8" stroke="#444" stroke-width="0.5" fill="#555"/>
<circle cx="571.05" cy="1112.1" r="3.6" stroke="#161616" stroke-width="1.8" fill="#959595"/>
<circle cx="571.05" cy="1112.1" r="0.8" stroke="#444" stroke-width="0.5" fill="#555"/>
<circle cx="618" cy="642.8" r="3.6" stroke="#161616" stroke-width="1.8" fill="#959595"/>
<circle cx="618" cy="642.8" r="0.8" stroke="#444" stroke-width="0.5" fill="#555"/>
<circle cx="618" cy="689.73" r="3.6" stroke="#161616" stroke-width="1.8" fill="#959595"/>
<circle cx="618" cy="689.73" r="0.8" stroke="#444" stroke-width="0.5" fill="#555"/>
<circle cx="618" cy="736.66" r="3.6" stroke="#161616" stroke-width="1.8" fill="#959595"/>
<circle cx="618" cy="736.66" r="0.8" stroke="#444" stroke-width="0.5" fill="#555"/>
<circle cx="618" cy="783.59" r="3.6" stroke="#161616" stroke-width="1.8" fill="#959595"/>
<circle cx="618" cy="783.59" r="0.8" stroke="#444" stroke-width="0.5" fill="#555"/>
<circle cx="618" cy="830.52" r="3.6" stroke="#161616" stroke-width="1.8" fill="#959595"/>
<circle cx="618" cy="830.52" r="0.8" stroke="#444" stroke-width="0.5" fill="#555"/>
<circle cx="618" cy="877.45" r="3.6" stroke="#161616" stroke-width="1.8" fill="#959595"/>
<circle cx="618" cy="877.45" r="0.8" stroke="#444" stroke-width="0.5" fill="#555"/>
<circle cx="618" cy="924.38" r="3.6" stroke="#161616" stroke-width="1.8" fill="#959595"/>
<circle cx="618" cy="924.38" r="0.8" stroke="#444" stroke-width="0.5" fill="#555"/>
<circle cx="618" cy="971.31" r="3.6" stroke="#161616" stroke-width="1.8" fill="#959595"/>
<circle cx="618" cy="971.31" r="0.8" stroke="#444" stroke-width="0.5" fill="#555"/>
<circle cx="618" cy="1018.24" r="3.6" stroke="#161616" stroke-width="1.8" fill="#959595"/>
<circle cx="618" cy="1018.24" r="0.8" stroke="#444" stroke-width="0.5" fill="#555"/>
<circle cx="618" cy="1065.17" r="3.6" stroke="#161616" stroke-width="1.8" fill="#959595"/>
<circle cx="618" cy="1065.17" r="0.8" stroke="#444" stroke-width="0.5" fill="#555"/>
<circle cx="618" cy="1112.1" r="3.6" stroke="#161616" stroke-width="1.8" fill="#959595"/>
<circle cx="618" cy="1112.1" r="0.8" stroke="#444" stroke-width="0.5" fill="#555"/>
<line x1="99.5" y1="531.5" x2="99.5" y2="589" stroke="#444" stroke-width="1.2" />
<line x1="668.5" y1="531.5" x2="668.5" y2="589" stroke="#444" stroke-width="1.2" />
<line x1="99.2" y1="537.1" x2="668.2" y2="537.1" stroke="#777" stroke-width="1.5" />
<polygon points="99.6,537.1 115.6,532.4 115.6,541.8" fill="#0c0c0c"/>
<polygon points="667.8,537.1 651.8,541.8 651.8,532.4" fill="#0c0c0c"/>
<text x="372.5" y="528" font-size="23.5" text-anchor="middle" fill="#111" >303</text>
<line x1="671" y1="593.4" x2="753" y2="593.4" stroke="#7d7d7d" stroke-width="1.7" />
<line x1="672" y1="1161.9" x2="752.5" y2="1161.9" stroke="#7d7d7d" stroke-width="1.7" />
<line x1="748" y1="593.1" x2="748" y2="1162" stroke="#777" stroke-width="1.5" />
<polygon points="748,593.6 752.7,609.6 743.3,609.6" fill="#0c0c0c"/>
<polygon points="748,1161.5 743.3,1145.5 752.7,1145.5" fill="#0c0c0c"/>
<text x="0" y="0" transform="translate(738.8 882.8) rotate(-90)" font-size="23.5" text-anchor="middle" fill="#111" >303</text>
<circle cx="381.5" cy="898.6" r="4.65" stroke="#111" stroke-width="1.8" fill="none"/>
<circle cx="388.1" cy="898.6" r="4.65" stroke="#111" stroke-width="1.8" fill="none"/>
<text x="384.7" y="911.7" font-size="7.4" text-anchor="middle" fill="#111" font-weight="bold" textLength="36" lengthAdjust="spacingAndGlyphs" stroke="#111" stroke-width="0.25">Ideal Standard</text>
</g>
<g id="side">
<path d="M144.9,1411.9 V1416.3000000000002 H152.4 V1411.9" stroke="#0c0c0c" stroke-width="1.25" fill="none" />
<path d="M191.85,1411.9 V1416.3000000000002 H199.35 V1411.9" stroke="#0c0c0c" stroke-width="1.25" fill="none" />
<path d="M238.8,1411.9 V1416.3000000000002 H246.3 V1411.9" stroke="#0c0c0c" stroke-width="1.25" fill="none" />
<path d="M285.75,1411.9 V1416.3000000000002 H293.25 V1411.9" stroke="#0c0c0c" stroke-width="1.25" fill="none" />
<path d="M332.7,1411.9 V1416.3000000000002 H340.2 V1411.9" stroke="#0c0c0c" stroke-width="1.25" fill="none" />
<path d="M379.65,1411.9 V1416.3000000000002 H387.15 V1411.9" stroke="#0c0c0c" stroke-width="1.25" fill="none" />
<path d="M426.6,1411.9 V1416.3000000000002 H434.1 V1411.9" stroke="#0c0c0c" stroke-width="1.25" fill="none" />
<path d="M473.55,1411.9 V1416.3000000000002 H481.05 V1411.9" stroke="#0c0c0c" stroke-width="1.25" fill="none" />
<path d="M520.5,1411.9 V1416.3000000000002 H528 V1411.9" stroke="#0c0c0c" stroke-width="1.25" fill="none" />
<path d="M567.45,1411.9 V1416.3000000000002 H574.95 V1411.9" stroke="#0c0c0c" stroke-width="1.25" fill="none" />
<path d="M614.4,1411.9 V1416.3000000000002 H621.9 V1411.9" stroke="#0c0c0c" stroke-width="1.25" fill="none" />
<path d="M101.0,1395.8 H666.6 Q668.4000000000001,1395.8 668.4000000000001,1397.6 V1407.5 Q668.4000000000001,1411.9 664.2,1411.9 H103.4 Q99.3,1411.9 99.3,1407.5 V1397.6 Q99.3,1395.8 101.0,1395.8 Z" stroke="#0c0c0c" stroke-width="1.8" fill="none" />
<line x1="99.7" y1="1408" x2="667.7" y2="1408" stroke="#0c0c0c" stroke-width="1.5" />
<rect x="361.8" y="1303.2" width="43.7" height="28.1" rx="1.5" stroke="#0c0c0c" stroke-width="1.8" fill="none"/>
<path d="M375.6,1331.3 V1327.2 Q375.6,1325.8 377,1325.8 H391 Q392.4,1325.8 392.4,1327.2 V1331.3" stroke="#0c0c0c" stroke-width="1.4" fill="none" />
<path d="M366.6,1331.3 V1338.6 L365.2,1341.5 M401,1331.3 V1338.6 L402.4,1341.5" stroke="#0c0c0c" stroke-width="1.5" fill="none" />
<line x1="366.6" y1="1338.5" x2="401" y2="1338.5" stroke="#0c0c0c" stroke-width="1.3" />
<rect x="354.7" y="1341.8" width="58.5" height="25.4" rx="1" stroke="#0c0c0c" stroke-width="1.8" fill="none"/>
<rect x="351.8" y="1367.2" width="64.2" height="15.2" rx="1" stroke="#0c0c0c" stroke-width="1.8" fill="none"/>
<path d="M353.8,1382.4 V1395.8 M414,1382.4 V1395.8" stroke="#0c0c0c" stroke-width="1.7" fill="none" />
<path d="M373.1,1367.2 V1395.8 M394.3,1367.2 V1395.8" stroke="#0c0c0c" stroke-width="1.5" fill="none" />
<line x1="365.5" y1="1278" x2="365.5" y2="1302.3" stroke="#222" stroke-width="1.2" />
<line x1="401.5" y1="1278" x2="401.5" y2="1302.3" stroke="#222" stroke-width="1.2" />
<line x1="288.8" y1="1283.5" x2="401.5" y2="1283.5" stroke="#222" stroke-width="1.2" />
<polygon points="365.6,1283.4 381.8,1279 381.8,1287.8" fill="#0c0c0c"/>
<polygon points="401.2,1283.4 385,1287.8 385,1279" fill="#0c0c0c"/>
<text x="293.2" y="1273.3" font-size="23.5" text-anchor="start" fill="#111" >G1/2</text>
<line x1="408.5" y1="1303.5" x2="752.5" y2="1303.5" stroke="#222" stroke-width="1.2" />
<line x1="669.5" y1="1411.5" x2="752.5" y2="1411.5" stroke="#222" stroke-width="1.2" />
<line x1="748.5" y1="1303" x2="748.5" y2="1411.4" stroke="#555" stroke-width="1" />
<polygon points="748,1303.3 752.7,1319.3 743.3,1319.3" fill="#0c0c0c"/>
<polygon points="748,1411 743.3,1395 752.7,1395" fill="#0c0c0c"/>
<text x="0" y="0" transform="translate(737.9 1358.7) rotate(-90)" font-size="23.2" text-anchor="middle" fill="#111" >58</text>
<line x1="673.3" y1="1396.5" x2="705.5" y2="1396.5" stroke="#222" stroke-width="1.2" />
<line x1="700.5" y1="1349.3" x2="700.5" y2="1429.4" stroke="#222" stroke-width="1.2" />
<polygon points="700.8,1395.8 696.1,1379.8 705.5,1379.8" fill="#0c0c0c"/>
<polygon points="700.8,1411.6 705.5,1427.6 696.1,1427.6" fill="#0c0c0c"/>
<text x="0" y="0" transform="translate(692 1363.4) rotate(-90)" font-size="23.2" text-anchor="middle" fill="#111" >8</text>
</g>
</svg>
</body>
</html>
